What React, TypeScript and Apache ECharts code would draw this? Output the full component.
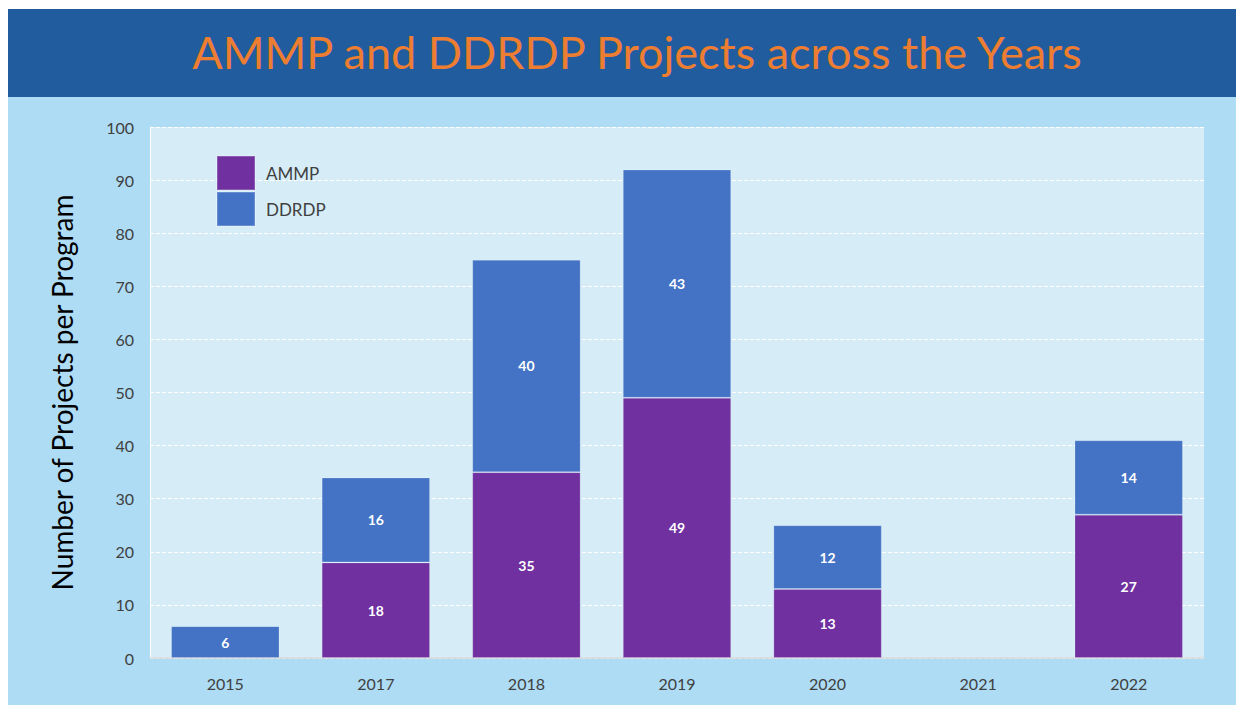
import React, { useEffect, useRef } from "react";
import * as echarts from "echarts";

const years = ["2015", "2017", "2018", "2019", "2020", "2021", "2022"];
const ammp: (number | null)[] = [null, 18, 35, 49, 13, null, 27];
const ddrdp: (number | null)[] = [6, 16, 40, 43, 12, null, 14];
const titleText = "AMMP and DDRDP Projects across the Years";
const yAxisName = "Number of Projects per Program";

const FONT = "Lato";

export default function App() {
  const ref = useRef<HTMLDivElement>(null);
  useEffect(() => {
    if (!ref.current) return;
    const chart = echarts.init(ref.current, null, { renderer: "svg" });
    const label = {
      show: true,
      position: "inside",
      color: "#ffffff",
      fontWeight: "bold",
      fontSize: 14,
      fontFamily: FONT,
    };
    chart.setOption({
      animation: false,
      backgroundColor: "#AEDCF4",
      graphic: [
        {
          type: "rect",
          shape: { x: 0, y: 0, width: 1237, height: 88 },
          style: { fill: "#215C9F" },
          z: -1,
        },
        {
          type: "text",
          x: 630,
          y: 43,
          style: {
            text: titleText,
            fill: "#ED7D31",
            fontSize: 45,
            fontFamily: FONT,
            align: "center",
            verticalAlign: "middle",
          },
        },
      ],
      legend: {
        orient: "vertical",
        left: 204,
        top: 141,
        itemWidth: 38,
        itemHeight: 34,
        itemGap: 0,
        icon: "rect",
        textStyle: { color: "#404040", fontSize: 17, fontFamily: FONT, padding: [0, 0, 0, 6] },
        data: ["AMMP", "DDRDP"],
      },
      grid: {
        left: 143,
        top: 118,
        right: 40,
        bottom: 48,
        show: true,
        backgroundColor: "#D6EDF8",
        borderWidth: 0,
      },
      xAxis: {
        type: "category",
        data: years,
        axisLine: { show: true, lineStyle: { color: "#D9D9D9", width: 1.5 } },
        axisTick: { show: false },
        axisLabel: { color: "#404040", fontSize: 16, fontFamily: FONT, margin: 17 },
      },
      yAxis: {
        type: "value",
        min: 0,
        max: 100,
        interval: 10,
        name: yAxisName,
        nameLocation: "middle",
        nameGap: 74,
        nameTextStyle: { color: "#000000", fontSize: 28, fontFamily: FONT },
        axisLine: { show: true, lineStyle: { color: "#ffffff", width: 1 } },
        axisTick: { show: false },
        axisLabel: { color: "#404040", fontSize: 16, fontFamily: FONT, margin: 16 },
        splitLine: { show: true, lineStyle: { color: "#ffffff", type: "dashed", width: 1 } },
      },
      series: [
        {
          name: "AMMP",
          type: "bar",
          stack: "total",
          data: ammp,
          barWidth: "72%",
          itemStyle: { color: "#7030A0", borderColor: "rgba(255,255,255,0.2)", borderWidth: 1 },
          label,
        },
        {
          name: "DDRDP",
          type: "bar",
          stack: "total",
          data: ddrdp,
          barWidth: "72%",
          itemStyle: { color: "#4472C4", borderColor: "rgba(255,255,255,0.2)", borderWidth: 1 },
          label,
        },
      ],
    });
    return () => chart.dispose();
  }, []);
  return (
    <div
      ref={ref}
      style={{ position: "relative", left: -1, top: 1, width: 1237, height: 697 }}
    />
  );
}
